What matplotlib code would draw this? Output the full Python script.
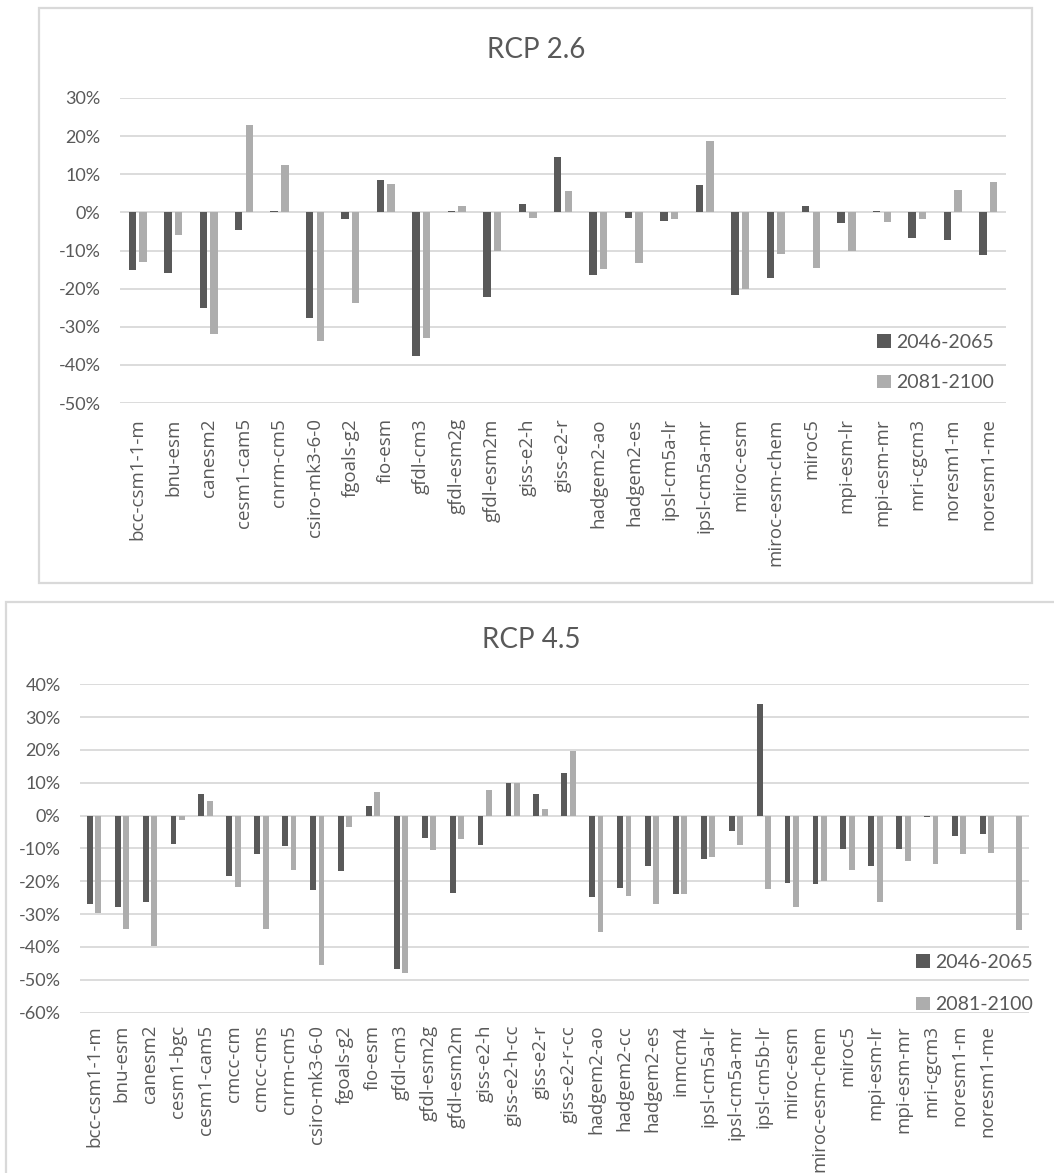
import numpy as np
import matplotlib
matplotlib.use("Agg")
import matplotlib.pyplot as plt
from matplotlib.patches import Rectangle
from matplotlib.ticker import FuncFormatter

plt.rcParams['font.family'] = ['Lato', 'DejaVu Sans']
plt.rcParams['axes.unicode_minus'] = False

# ----------------------------------------------------
# Change (%) per GCM, two future periods
# ----------------------------------------------------
periods = ["2046-2065", "2081-2100"]

models_26 = [
    "bcc-csm1-1-m", "bnu-esm", "canesm2", "cesm1-cam5", "cnrm-cm5",
    "csiro-mk3-6-0", "fgoals-g2", "fio-esm", "gfdl-cm3", "gfdl-esm2g",
    "gfdl-esm2m", "giss-e2-h", "giss-e2-r", "hadgem2-ao", "hadgem2-es",
    "ipsl-cm5a-lr", "ipsl-cm5a-mr", "miroc-esm", "miroc-esm-chem", "miroc5",
    "mpi-esm-lr", "mpi-esm-mr", "mri-cgcm3", "noresm1-m", "noresm1-me",
]
rcp26_mid = [
    -15.1, -16.0, -25.2, -4.5, 0.4,
    -27.6, -1.7, 8.4, -37.8, 0.4,
    -22.1, 2.2, 14.4, -16.4, -1.4,
    -2.3, 7.1, -21.6, -17.2, 1.8,
    -2.9, 0.3, -6.6, -7.2, -11.2,
]
rcp26_end = [
    -13.0, -5.9, -31.9, 23.0, 12.3,
    -33.8, -23.7, 7.4, -32.9, 1.6,
    -10.1, -1.4, 5.6, -14.8, -13.3,
    -1.7, 18.7, -20.0, -10.8, -14.5,
    -10.0, -2.6, -1.7, 5.9, 8.0,
]

models_45 = [
    "bcc-csm1-1-m", "bnu-esm", "canesm2", "cesm1-bgc", "cesm1-cam5",
    "cmcc-cm", "cmcc-cms", "cnrm-cm5", "csiro-mk3-6-0", "fgoals-g2",
    "fio-esm", "gfdl-cm3", "gfdl-esm2g", "gfdl-esm2m", "giss-e2-h",
    "giss-e2-h-cc", "giss-e2-r", "giss-e2-r-cc", "hadgem2-ao", "hadgem2-cc",
    "hadgem2-es", "inmcm4", "ipsl-cm5a-lr", "ipsl-cm5a-mr", "ipsl-cm5b-lr",
    "miroc-esm", "miroc-esm-chem", "miroc5", "mpi-esm-lr", "mpi-esm-mr",
    "mri-cgcm3", "noresm1-m", "noresm1-me", "",
]
rcp45_mid = [
    -27.0, -28.0, -26.4, -8.7, 6.5,
    -18.3, -11.8, -9.3, -22.6, -17.0,
    2.9, -46.6, -6.8, -23.5, -9.1,
    9.9, 6.5, 13.1, -24.8, -22.2,
    -15.3, -23.9, -13.3, -4.6, 33.9,
    -20.4, -20.8, -10.1, -15.3, -10.1,
    -0.5, -6.1, -5.5, np.nan,
]
rcp45_end = [
    -29.7, -34.6, -39.8, -1.2, 4.3,
    -21.8, -34.6, -16.7, -45.6, -3.6,
    7.1, -48.0, -10.4, -7.1, 7.8,
    9.9, 2.0, 19.7, -35.6, -24.4,
    -27.0, -23.9, -12.7, -9.0, -22.5,
    -28.0, -20.0, -16.7, -26.3, -13.9,
    -14.9, -11.7, -11.4, -34.9,
]

DARK = "#595959"
LIGHT = "#ADADAD"
GRID = "#D9D9D9"
TEXT = "#595959"

W, H = 1054, 1173
fig = plt.figure(figsize=(W / 100, H / 100), dpi=100)


def px_axes(left, top, right, bottom):
    return fig.add_axes([left / W, 1 - bottom / H,
                         (right - left) / W, (bottom - top) / H])


def frame(left, top, right, bottom):
    fig.add_artist(Rectangle((left / W, 1 - bottom / H),
                             (right - left) / W, (bottom - top) / H,
                             transform=fig.transFigure, fill=False,
                             edgecolor=GRID, lw=1.6))


def draw_panel(ax, names, mid, end, ylo, yhi, label_pad):
    x = np.arange(len(names))
    ax.bar(x - 0.15, mid, 0.21, color=DARK, zorder=3, label=periods[0])
    ax.bar(x + 0.15, end, 0.21, color=LIGHT, zorder=3, label=periods[1])

    ax.set_xlim(-0.5, len(names) - 0.5)
    ax.set_ylim(ylo, yhi)
    ax.set_yticks(np.arange(ylo, yhi + 1, 10))
    ax.yaxis.set_major_formatter(
        FuncFormatter(lambda v, _: f"{int(round(v))}%"))
    ax.grid(axis="y", color=GRID, lw=1.3, zorder=0)
    ax.set_xticks(x, names, rotation=90, va="top", ha="center",
                  family=["Open Sans", "DejaVu Sans"])

    for s in ax.spines.values():
        s.set_visible(False)
    ax.tick_params(axis="y", length=0, pad=14, labelsize=13, labelcolor=TEXT)
    ax.tick_params(axis="x", length=0, pad=label_pad, labelsize=13.5,
                   labelcolor=TEXT)


def add_legend(ax, left, top, spacing):
    ax.legend(loc="upper left", bbox_to_anchor=(left / W, 1 - top / H),
              bbox_transform=fig.transFigure, frameon=False, fontsize=14,
              labelcolor=TEXT, handlelength=0.7, handleheight=0.7,
              handletextpad=0.3, labelspacing=spacing, borderpad=0,
              borderaxespad=0)


# ---------------- RCP 2.6 ----------------
frame(39, 8, 1032, 583)
ax1 = px_axes(120, 98, 1006, 403)
draw_panel(ax1, models_26, rcp26_mid, rcp26_end, -50, 30, 11)
fig.text(536 / W, 1 - 50 / H, "RCP 2.6", ha="center", va="center",
         fontsize=20, color=TEXT)
add_legend(ax1, 877, 334, 1.2)

# ---------------- RCP 4.5 ----------------
frame(6, 602, 1070, 1190)
ax2 = px_axes(80, 684.3, 1029, 1012.5)
draw_panel(ax2, models_45, rcp45_mid, rcp45_end, -60, 40, 9)
fig.text(531 / W, 1 - 640 / H, "RCP 4.5", ha="center", va="center",
         fontsize=20, color=TEXT)
add_legend(ax2, 916, 954, 1.3)

fig.savefig("out.png", dpi=100, facecolor="white")
